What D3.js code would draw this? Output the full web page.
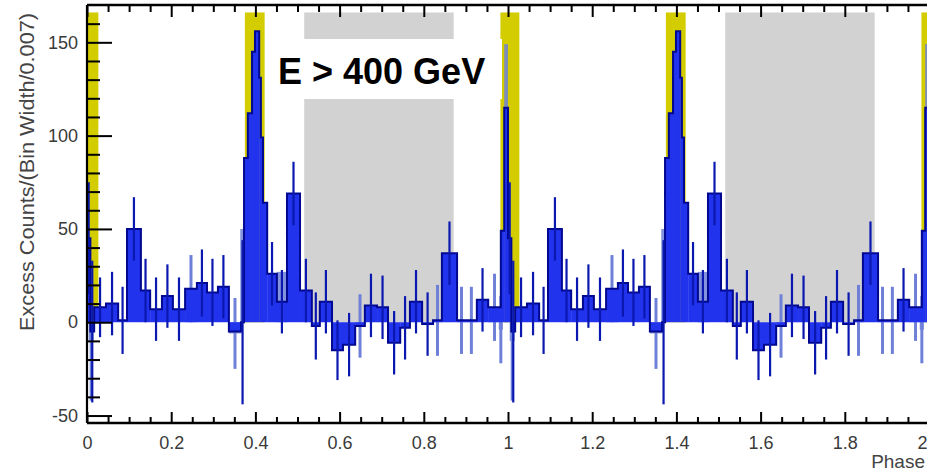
<!DOCTYPE html>
<html><head><meta charset="utf-8">
<script src="https://cdn.jsdelivr.net/npm/d3@7"></script>
<style>body{margin:0;background:#fff;} svg{display:block;}</style>
</head><body>
<svg id="c" width="927" height="473"></svg>
<script>
// ---- data (one rotation, phase 0..1; drawn twice) ----
const binEdges = [0, 0.008, 0.017, 0.045, 0.074, 0.095, 0.128, 0.150, 0.178, 0.204,
  0.233, 0.261, 0.285, 0.311, 0.337, 0.366, 0.373, 0.382, 0.392, 0.399,
  0.409, 0.413, 0.418, 0.428, 0.451, 0.475, 0.506, 0.534, 0.553, 0.582,
  0.608, 0.637, 0.660, 0.689, 0.715, 0.744, 0.767, 0.796, 0.822, 0.843,
  0.879, 0.926, 0.953, 0.983, 0.991, 1.000];
const excess = [45, -5, 8, 10, 1, 50, 17, 7, 14, 7,
  18, 21, 16, 19, -5, 0, 88, 112, 145, 156,
  131, 99, 64, 26, 11, 69, 17, -2, 11, -15,
  -12, -2, 9, 8, -11, -3, 11, -1, 1, 37,
  1, 12, 8, 49, 115];
const excessErr = [30, 38, 16, 17, 18, 17, 17, 17, 17, 17,
  0, 18, 18, 17, 0, 44, 0, 0, 0, 0,
  0, 0, 0, 17, 17, 17, 17, 18, 17, 16,
  17, 0, 17, 17, 17, 17, 17, 17, 0, 17,
  0, 17, 0, 0, 0];
// overlaid lighter histogram entries
const lightStart = [0.004, 0.233, 0.337, 0.364, 0.451, 0.637, 0.822, 0.879, 0.900, 0.953, 0.978, 0.991];
const lightEnd   = [0.016, 0.261, 0.366, 0.373, 0.475, 0.660, 0.843, 0.900, 0.926, 0.983, 0.988, 1.000];
const lightValue = [-10, 18, -6, 50, 27, -2, 1, 1, 1, 8, -4, 149];
const lightErr   = [32, 18, 19, 0, 0, 17, 19, 18, 18, 18, 18, 0];
const cycles = [0, 1];
const offPulse = [[0.516, 0.871]];
const pulseRegions = [[-0.018, 0.027], [0.375, 0.422]];
const shadeTop = 166;
const xMajor = [0, 0.2, 0.4, 0.6, 0.8, 1, 1.2, 1.4, 1.6, 1.8, 2];
const xMajorLabels = ["0", "0.2", "0.4", "0.6", "0.8", "1", "1.2", "1.4", "1.6", "1.8", "2"];
const yMajor = [-50, 0, 50, 100, 150];
const yMajorLabels = ["-50", "0", "50", "100", "150"];
const yTitle = "Excess Counts/(Bin Width/0.007)";
const xTitle = "Phase";
const energyLabel = "E > 400 GeV";

// ---- drawing ----
const svg = d3.select("#c");
const FONT = "'Liberation Sans', Arial, Helvetica, sans-serif";
const x = d3.scaleLinear().domain([0, 2]).range([87, 929]);
const y = d3.scaleLinear().domain([-54, 170]).range([423, 5]);

svg.append("defs").append("clipPath").attr("id", "clip")
  .append("rect").attr("x", x(0)).attr("y", y(170)).attr("width", x(2) - x(0)).attr("height", y(-54) - y(170));
const plot = svg.append("g").attr("clip-path", "url(#clip)");

// shaded regions
const shadeCycles = [-1, 0, 1, 2];
offPulse.forEach(r => shadeCycles.forEach(k => {
  plot.append("rect").attr("x", x(r[0] + k)).attr("width", x(r[1]) - x(r[0]))
    .attr("y", y(shadeTop)).attr("height", y(0) - y(shadeTop)).attr("fill", "#d2d2d2");
}));
pulseRegions.forEach(r => shadeCycles.forEach(k => {
  plot.append("rect").attr("x", x(r[0] + k)).attr("width", x(r[1]) - x(r[0]))
    .attr("y", y(shadeTop)).attr("height", y(0) - y(shadeTop)).attr("fill", "#d3cd00");
}));

// build bins for all cycles
const bins = [];
cycles.forEach(k => excess.forEach((v, i) => {
  bins.push({x0: binEdges[i] + k, x1: binEdges[i + 1] + k, v, e: excessErr[i]});
}));
const lbins = [];
cycles.forEach(k => lightValue.forEach((v, i) => {
  lbins.push({x0: lightStart[i] + k, x1: lightEnd[i] + k, v, e: lightErr[i]});
}));

// light histogram
plot.selectAll(".lbar").data(lbins).enter().append("rect")
  .attr("x", d => x(d.x0)).attr("width", d => x(d.x1) - x(d.x0))
  .attr("y", d => y(Math.max(0, d.v))).attr("height", d => Math.abs(y(d.v) - y(0)))
  .attr("fill", "#6f80d8").attr("opacity", 0.85);
plot.selectAll(".lerr").data(lbins.filter(d => d.e > 0)).enter().append("line")
  .attr("x1", d => x((d.x0 + d.x1) / 2)).attr("x2", d => x((d.x0 + d.x1) / 2))
  .attr("y1", d => y(d.v + d.e)).attr("y2", d => y(d.v - d.e))
  .attr("stroke", "#6f80d8").attr("stroke-width", 3);

// main histogram fill
plot.selectAll(".bar").data(bins).enter().append("rect")
  .attr("x", d => x(d.x0)).attr("width", d => x(d.x1) - x(d.x0) + 0.3)
  .attr("y", d => y(Math.max(0, d.v))).attr("height", d => Math.max(1, Math.abs(y(d.v) - y(0))))
  .attr("fill", "#2233ee");
// outline
const pts = [{x: 0, v: 0}];
bins.forEach(d => pts.push({x: d.x0, v: d.v}));
pts.push({x: bins[bins.length - 1].x1, v: bins[bins.length - 1].v});
pts.push({x: bins[bins.length - 1].x1, v: 0});
plot.append("path").datum(pts)
  .attr("d", d3.line().x(d => x(d.x)).y(d => y(d.v)).curve(d3.curveStepAfter))
  .attr("fill", "none").attr("stroke", "#00088f").attr("stroke-width", 2);
// error bars
plot.selectAll(".err").data(bins.filter(d => d.e > 0)).enter().append("line")
  .attr("x1", d => x((d.x0 + d.x1) / 2)).attr("x2", d => x((d.x0 + d.x1) / 2))
  .attr("y1", d => y(d.v + d.e)).attr("y2", d => y(d.v - d.e))
  .attr("stroke", "#0a18b0").attr("stroke-width", 2.2);

// axes
const styleAxis = g => {
  g.select(".domain").remove();
  g.selectAll("line").attr("stroke", "#000").attr("stroke-width", 2);
  g.selectAll("text").attr("font-family", FONT).attr("font-size", 18).attr("fill", "#3a3a3a");
};
const xMinor = d3.range(0, 2.0001, 0.05).filter(v => Math.abs(v * 5 - Math.round(v * 5)) > 1e-6);
const yMinor = d3.range(-50, 170, 10).filter(v => v % 50 !== 0);

const xAx = svg.append("g").attr("transform", `translate(0,${y(-54)})`)
  .call(d3.axisBottom(x).tickValues(xMajor).tickSize(-11).tickPadding(13)
    .tickFormat((d, i) => xMajorLabels[i])).call(styleAxis);
// keep the last label inside the picture
xAx.selectAll(".tick").filter(d => d === 2).select("text")
  .attr("text-anchor", "end").attr("x", -2);
svg.append("g").attr("transform", `translate(0,${y(-54)})`)
  .call(d3.axisBottom(x).tickValues(xMinor).tickSize(-6).tickFormat("")).call(styleAxis);
svg.append("g").attr("transform", `translate(0,${y(170)})`)
  .call(d3.axisTop(x).tickValues(xMajor).tickSize(-12).tickFormat("")).call(styleAxis);
svg.append("g").attr("transform", `translate(0,${y(170)})`)
  .call(d3.axisTop(x).tickValues(xMinor).tickSize(-7).tickFormat("")).call(styleAxis);
svg.append("g").attr("transform", `translate(${x(0)},0)`)
  .call(d3.axisLeft(y).tickValues(yMajor).tickSize(-25).tickPadding(9)
    .tickFormat((d, i) => yMajorLabels[i])).call(styleAxis);
svg.append("g").attr("transform", `translate(${x(0)},0)`)
  .call(d3.axisLeft(y).tickValues(yMinor).tickSize(-13).tickFormat("")).call(styleAxis);

// frame
svg.append("line").attr("x1", x(0)).attr("x2", x(0)).attr("y1", y(170)).attr("y2", y(-54))
  .attr("stroke", "#000").attr("stroke-width", 2.2);
svg.append("line").attr("x1", x(0)).attr("x2", x(2)).attr("y1", y(-54)).attr("y2", y(-54))
  .attr("stroke", "#000").attr("stroke-width", 2.5);
svg.append("line").attr("x1", x(0)).attr("x2", x(2)).attr("y1", y(170)).attr("y2", y(170))
  .attr("stroke", "#000").attr("stroke-width", 2.5);

// titles
svg.append("text").attr("transform", `translate(34,${(12 + 332) / 2}) rotate(-90)`)
  .attr("text-anchor", "middle").attr("font-family", FONT).attr("font-size", 20)
  .attr("textLength", 318).attr("lengthAdjust", "spacingAndGlyphs")
  .attr("fill", "#444").text(yTitle);
svg.append("text").attr("x", 925).attr("y", 468).attr("text-anchor", "end").attr("font-family", FONT)
  .attr("font-size", 19).attr("fill", "#444").text(xTitle);

// energy label box
svg.append("rect").attr("x", 268).attr("y", 39).attr("width", 234).attr("height", 60).attr("fill", "#fff");
svg.append("text").attr("x", 278).attr("y", 84).attr("font-family", FONT)
  .attr("font-weight", "bold").attr("font-size", 36).attr("fill", "#000").text(energyLabel);
</script>
</body></html>
